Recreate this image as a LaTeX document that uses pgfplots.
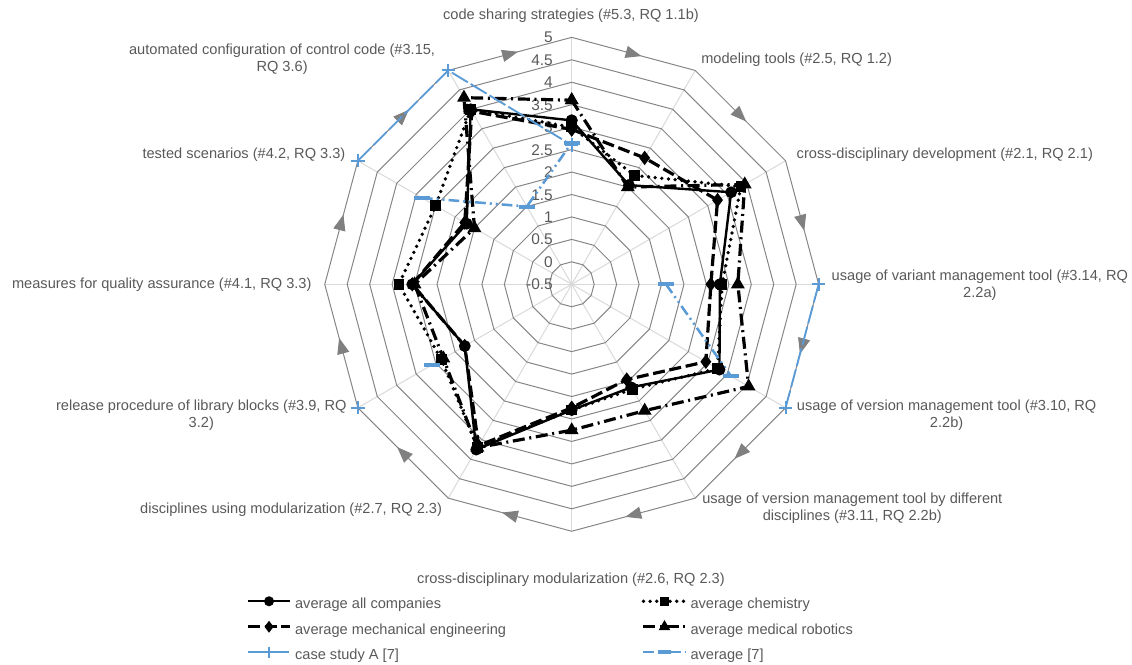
\documentclass[border=0pt]{standalone}
\usepackage{pgfplots}
\pgfplotsset{compat=1.18}
\usepackage{pgfplotstable}
\usepackage{fontspec}
\setmainfont{Liberation Sans}
\usetikzlibrary{decorations.markings}
\definecolor{txt}{HTML}{595959}
\definecolor{ringc}{HTML}{868686}
\definecolor{spokec}{HTML}{D9D9D9}
\definecolor{arrowc}{HTML}{808080}
\definecolor{blu}{RGB}{91,155,213}

% th = angle clockwise from top (degrees), v = value
\pgfplotstableread{
th v
0 3.15
30 2.05
60 3.6
90 2.8
120 3.3
150 2.15
180 2.3
210 3.75
240 2.25
270 3.05
300 2.2
330 4.0
360 3.15
}\avgall
\pgfplotstableread{
th v
0 3.0
30 2.3
60 3.85
90 2.85
120 3.25
150 2.2
180 2.3
210 3.7
240 2.85
270 3.35
300 3.0
330 4.0
360 3.0
}\chem
\pgfplotstableread{
th v
0 2.95
30 2.75
60 3.25
90 2.6
120 2.95
150 1.95
180 2.25
210 3.65
240 2.25
270 3.05
300 2.25
330 3.95
360 2.95
}\mech
\pgfplotstableread{
th v
0 3.6
30 2.0
60 3.95
90 3.2
120 4.05
150 2.75
180 2.75
210 3.7
240 2.8
270 3.0
300 2.0
330 4.3
360 3.6
}\med
\pgfplotstableread{
th v
0 2.6
30 nan
60 nan
90 5
120 5
150 nan
180 nan
210 nan
240 5
270 nan
300 5
330 5
360 2.6
}\casea
\pgfplotstableread{
th v
0 2.65
30 nan
60 nan
90 1.6
120 3.6
150 nan
180 nan
210 nan
240 3.1
270 nan
300 3.35
330 1.5
360 2.65
}\avgseven

\begin{document}
\begin{tikzpicture}
\begin{axis}[
  x=33.675pt, y=33.675pt,
  xmin=-12.733, xmax=12.479, ymin=-8.479, ymax=6.332,
  hide axis, clip=false,
  unbounded coords=jump,
  legend columns=2,
  legend cell align=left,
  legend style={at={(axis cs:-7.21,-6.99)}, anchor=north west, draw=none, fill=none,
     inner sep=0pt, outer sep=0pt, row sep=8.6pt,
     font=\fontsize{10.95}{12}\selectfont, text=txt,
     nodes={inner xsep=0pt, inner ysep=0pt, text height=8pt, text depth=2.5pt},
     /tikz/every odd column/.append style={column sep=3.75pt},
     /tikz/every even column/.append style={column sep=103pt}},
  legend image code/.code={
     \path[draw=none, fill=none] (0cm,0pt) rectangle (1.11cm,5pt);
     \draw[overlay,mark repeat=2,mark phase=2,#1,every mark/.append style={scale=0.8}] plot coordinates {(0cm,2.9pt) (0.555cm,2.9pt) (1.11cm,2.9pt)};},
]
% spokes
\pgfplotsinvokeforeach{0,30,60,90,120,150,180,210,240,270,300,330}{
  \addplot[spokec, line width=0.75pt, data cs=polar, forget plot, mark=none] coordinates {(0,0) (#1,5.5)};
}
% rings
\pgfplotsinvokeforeach{0.5,1,1.5,2,2.5,3,3.5,4,4.5,5}{
  \addplot[ringc, line width=0.75pt, data cs=polar, forget plot, mark=none]
  coordinates {(90,#1)(60,#1)(30,#1)(0,#1)(-30,#1)(-60,#1)(-90,#1)(-120,#1)(-150,#1)(-180,#1)(-210,#1)(-240,#1)(-270,#1)};
}
% outer ring with direction arrows
\addplot[ringc, line width=0.75pt, data cs=polar, forget plot, mark=none,
  postaction={decorate},
  decoration={markings, mark=between positions 0.041667 and 0.99 step 0.083333 with
   {\fill[arrowc] (5.25pt,0pt) -- (-5.25pt,4.1pt) -- (-5.25pt,-4.1pt) -- cycle;}}]
  coordinates {(90,5.5)(60,5.5)(30,5.5)(0,5.5)(-30,5.5)(-60,5.5)(-90,5.5)(-120,5.5)(-150,5.5)(-180,5.5)(-210,5.5)(-240,5.5)(-270,5.5)};

% radial tick labels
\begin{scope}[every node/.style={anchor=east, inner sep=0pt, text=txt,
   font=\fontsize{11.6}{12}\selectfont, text height=8.3pt, text depth=0pt}]
\node at (axis cs:-0.416,5.5) {5};
\node at (axis cs:-0.416,5.0) {4.5};
\node at (axis cs:-0.416,4.5) {4};
\node at (axis cs:-0.416,4.0) {3.5};
\node at (axis cs:-0.416,3.5) {3};
\node at (axis cs:-0.416,3.0) {2.5};
\node at (axis cs:-0.416,2.5) {2};
\node at (axis cs:-0.416,2.0) {1.5};
\node at (axis cs:-0.416,1.5) {1};
\node at (axis cs:-0.416,1.0) {0.5};
\node at (axis cs:-0.416,0.5) {0};
\node at (axis cs:-0.416,0.0) {-0.5};
\end{scope}

% category labels
\begin{scope}[every node/.style={align=center, inner sep=0pt, text=txt,
   font=\fontsize{10.95}{12.75}\selectfont}]
\node at (axis cs:-0.016,5.98) {code sharing strategies (\#5.3, RQ 1.1b)};
\node at (axis cs:5.01,5.00) {modeling tools (\#2.5, RQ 1.2)};
\node at (axis cs:8.31,2.88) {cross-disciplinary development (\#2.1, RQ 2.1)};
\node at (axis cs:9.09,-0.016) {usage of variant management tool (\#3.14, RQ\\2.2a)};
\node at (axis cs:8.35,-2.91) {usage of version management tool (\#3.10, RQ\\2.2b)};
\node at (axis cs:6.25,-4.99) {usage of version management tool by different\\disciplines (\#3.11, RQ 2.2b)};
\node at (axis cs:-0.016,-6.59) {cross-disciplinary modularization (\#2.6, RQ 2.3)};
\node at (axis cs:-6.25,-5.03) {disciplines using modularization (\#2.7, RQ 2.3)};
\node at (axis cs:-8.25,-2.91) {release procedure of library blocks (\#3.9, RQ\\3.2)};
\node at (axis cs:-9.13,-0.016) {measures for quality assurance (\#4.1, RQ 3.3)};
\node at (axis cs:-7.30,2.88) {tested scenarios (\#4.2, RQ 3.3)};
\node at (axis cs:-6.45,5.02) {automated configuration of control code (\#3.15,\\RQ 3.6)};
\end{scope}

% data series
\addplot[black, line width=1.8pt, mark=*, mark size=3.5pt, mark options={solid}]
  table[x expr={(\thisrow{v}+0.5)*sin(\thisrow{th})}, y expr={(\thisrow{v}+0.5)*cos(\thisrow{th})}] {\avgall};
\addlegendentry{average all companies}
\addplot[black, line width=2.8pt, dash pattern=on 0pt off 5pt, line cap=round, mark=square*, mark size=3.5pt, mark options={solid, line width=1pt, line cap=butt}]
  table[x expr={(\thisrow{v}+0.5)*sin(\thisrow{th})}, y expr={(\thisrow{v}+0.5)*cos(\thisrow{th})}] {\chem};
\addlegendentry{average chemistry}
\addplot[black, line width=2.4pt, dash pattern=on 9pt off 3.5pt, mark=diamond*, mark size=4.6pt, mark options={solid, line width=1pt}]
  table[x expr={(\thisrow{v}+0.5)*sin(\thisrow{th})}, y expr={(\thisrow{v}+0.5)*cos(\thisrow{th})}] {\mech};
\addlegendentry{average mechanical engineering}
\addplot[black, line width=2.4pt, dash pattern=on 9pt off 3.5pt on 1.5pt off 3.5pt, mark=triangle*, mark size=5pt, mark options={solid, line width=1pt}]
  table[x expr={(\thisrow{v}+0.5)*sin(\thisrow{th})}, y expr={(\thisrow{v}+0.5)*cos(\thisrow{th})}] {\med};
\addlegendentry{average medical robotics}
\addplot[blu, line width=1.4pt, dash pattern=on 14pt off 2.5pt, mark=+, mark size=5pt, mark options={solid, line width=1.5pt}]
  table[x expr={(\thisrow{v}+0.5)*sin(\thisrow{th})}, y expr={(\thisrow{v}+0.5)*cos(\thisrow{th})}] {\casea};
\addlegendentry{case study A [7]}
\addplot[blu, line width=1.9pt, dash pattern=on 8pt off 3pt on 1.5pt off 3pt on 1.5pt off 3pt, mark=-, mark size=6pt, mark options={solid, line width=3pt}]
  table[x expr={(\thisrow{v}+0.5)*sin(\thisrow{th})}, y expr={(\thisrow{v}+0.5)*cos(\thisrow{th})}] {\avgseven};
\addlegendentry{average [7]}
\end{axis}
\pgfresetboundingbox
\path[use as bounding box] (current axis.south west) rectangle (current axis.north east);
\end{tikzpicture}
\end{document}
